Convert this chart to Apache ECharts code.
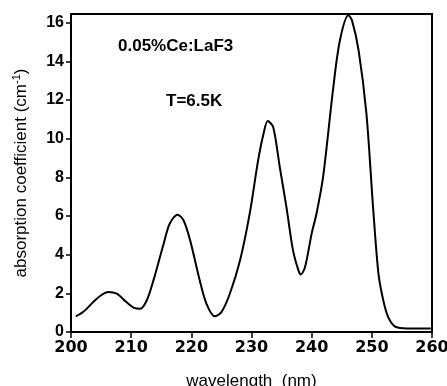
<!DOCTYPE html>
<html><head><meta charset="utf-8">
<script src="https://cdn.jsdelivr.net/npm/echarts@6/dist/echarts.min.js"></script>
<style>html,body{margin:0;padding:0;background:#fff}#c{width:447px;height:386px}</style>
</head><body><div id="c"></div>
<script>
var wavelength = [200.8,202,203.7,205,206.2,207.6,209.2,210.4,211.5,212.6,213.7,215.4,216.4,217.7,218.7,219.8,221.4,222.5,223.9,225,226.4,228.1,229.7,231.1,232,232.7,233.6,234.7,235.8,236.9,237.8,238.2,238.9,240,240.8,241.9,243.6,244.7,246.1,246.7,247.8,249.1,250.2,251.1,251.9,252.7,253.8,255.2,256.8,259.8];
var absorption = [0.81,1.03,1.55,1.9,2.07,1.98,1.55,1.26,1.2,1.64,2.67,4.57,5.6,6.07,5.78,4.74,2.67,1.47,0.81,1.03,1.98,3.71,6.12,8.88,10.26,10.91,10.6,8.53,6.47,4.22,3.19,2.98,3.36,5.09,6.12,8.02,12.67,15.09,16.38,16.12,14.57,11.3,6.47,3.02,1.64,0.78,0.29,0.19,0.18,0.18];
var xTicks = [200,210,220,230,240,250,260];
var yTicks = [0,2,4,6,8,10,12,14,16];
var sampleLabel = "0.05%Ce:LaF3";
var tempLabel = "T=6.5K";

var pts = wavelength.map(function(w,i){return [w, absorption[i]];});
var chart = echarts.init(document.getElementById('c'));
chart.setOption({
  animation:false,
  grid:{left:71,right:15,top:14,bottom:54,outerBoundsMode:'none',containLabel:false,show:true,borderColor:'#000',borderWidth:2,backgroundColor:'transparent'},
  xAxis:{type:'value',min:200,max:260,interval:10,
    name:'wavelength  (nm)',nameLocation:'middle',nameGap:41,
    nameTextStyle:{fontFamily:'Liberation Sans',fontSize:17,color:'#000',verticalAlign:'top'},
    axisLine:{lineStyle:{color:'#000',width:2}},
    axisTick:{show:true,length:6,lineStyle:{color:'#000',width:1.5},customValues:xTicks},
    axisLabel:{customValues:xTicks,color:'#000',fontFamily:'DejaVu Sans',fontWeight:'bold',fontSize:16,margin:8},
    splitLine:{show:false}},
  yAxis:{type:'value',min:0,max:16.45,
    name:'{a|absorption coefficient (cm}{s|-1}{a|)}',nameLocation:'middle',nameGap:40,nameRotate:90,
    nameTextStyle:{rich:{a:{fontFamily:'Liberation Sans',fontSize:17,color:'#000'},s:{fontFamily:'Liberation Sans',fontSize:11,color:'#000',verticalAlign:'top',padding:[0,0,9,0]}}},
    axisLine:{lineStyle:{color:'#000',width:2}},
    axisTick:{show:true,length:5,lineStyle:{color:'#000',width:1.5},customValues:yTicks},
    axisLabel:{customValues:yTicks,color:'#000',fontFamily:'Liberation Sans',fontWeight:'bold',fontSize:16,margin:7},
    splitLine:{show:false}},
  graphic:[
    {type:'text',left:118,top:38,style:{text:sampleLabel,font:'bold 17px "Liberation Sans"',fill:'#000'}},
    {type:'text',left:166,top:93,style:{text:tempLabel,font:'bold 17px "Liberation Sans"',fill:'#000'}}
  ],
  series:[{type:'line',data:pts,smooth:0.3,symbol:'none',lineStyle:{color:'#000',width:2}}]
});
</script></body></html>
